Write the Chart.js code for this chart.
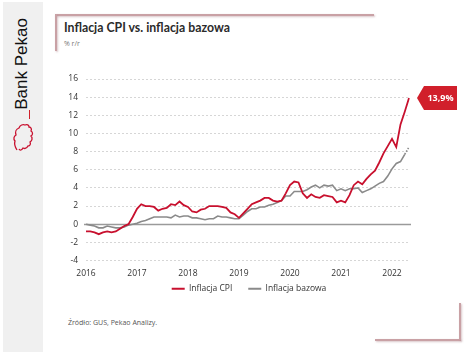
<!DOCTYPE html>
<html>
<head>
<meta charset="utf-8">
<script src="https://cdn.jsdelivr.net/npm/chart.js@4/dist/chart.umd.min.js"></script>
<style>
  html, body { margin:0; padding:0; background:#fff; }
  body { width:474px; height:355px; position:relative; overflow:hidden; font-family:"Open Sans","Noto Sans",sans-serif; }
  #strip { position:absolute; left:3px; top:2px; width:40px; height:350px; background:#f0f0f0; }
  #brand { position:absolute; left:22px; top:64px; transform:translate(-50%,-50%) rotate(-90deg); font-family:"Liberation Sans",Arial,sans-serif; font-size:17px; color:#111; white-space:nowrap; }
  #bar { position:absolute; left:29px; top:110px; width:1px; height:9px; background:#d0202a; }
  #logo { position:absolute; left:12px; top:122px; }
  .ln { position:absolute; background:#c9a1a5; box-shadow:1px 1px 2px rgba(180,140,145,0.5); }
  #title { position:absolute; left:64px; top:20px; font-family:Lato,"Open Sans",sans-serif; font-weight:700; font-size:12.3px; color:#2b2b2b; white-space:nowrap; }
  #sub { position:absolute; left:64px; top:39px; font-size:7px; color:#777; }
  #src { position:absolute; left:68px; top:318px; font-size:7px; color:#555; white-space:nowrap; }
  canvas { position:absolute; left:0; top:0; }
</style>
</head>
<body>
<div id="strip"></div>
<div id="brand">Bank Pekao</div>
<div id="bar"></div>
<svg id="logo" width="22" height="30" viewBox="0 0 22 30">
  <path d="M5 28 C3 25 2 22 3 19 C1 17 2 14 4 13 C3 10 4 7 7 6 C8 3 11 2 13 3 C15 2 17 3 17 5 C19 5 20 7 19 9 C21 10 21 13 19 14 C21 16 20 19 18 20 C19 22 18 24 16 24 C15 26 13 27 11 26 C10 28 8 29 7 27" fill="none" stroke="#c8102e" stroke-width="1.3"/>
</svg>
<div class="ln" style="left:55px; top:14px; width:319px; height:1.5px;"></div>
<div class="ln" style="left:55px; top:14px; width:1.5px; height:37px;"></div>
<div class="ln" style="left:375px; top:339px; width:86px; height:1.5px;"></div>
<div class="ln" style="left:459px; top:303px; width:1.5px; height:37px;"></div>
<div id="title">Inflacja CPI vs. inflacja bazowa</div>
<div id="sub">% r/r</div>
<div id="src">Źródło: GUS, Pekao Analizy.</div>
<canvas id="c" width="474" height="355"></canvas>
<script>
const months = [];
for (let y = 2016; y <= 2022; y++) {
  for (let m = 1; m <= 12; m++) {
    if (y === 2022 && m > 5) break;
    months.push(y + '-' + String(m).padStart(2, '0'));
  }
}
const cpiLabel = 'Inflacja CPI';
const coreLabel = 'Inflacja bazowa';
const cpi = [
  -0.8,-0.8,-0.9,-1.1,-0.9,-0.8,-0.9,-0.8,-0.5,-0.2,0.0,0.8,
  1.7,2.2,2.0,2.0,1.9,1.5,1.7,1.8,2.2,2.1,2.5,2.1,
  1.9,1.4,1.3,1.6,1.7,2.0,2.0,2.0,1.9,1.8,1.3,1.1,
  0.7,1.2,1.7,2.2,2.4,2.6,2.9,2.9,2.6,2.5,2.6,3.4,
  4.3,4.7,4.6,3.4,2.9,3.3,3.0,2.9,3.2,3.1,3.0,2.4,
  2.6,2.4,3.2,4.3,4.7,4.4,5.0,5.5,5.9,6.8,7.8,8.6,
  9.4,8.5,11.0,12.4,13.9
];
const core = [
  0.0,-0.1,-0.2,-0.4,-0.4,-0.2,-0.3,-0.4,-0.4,-0.3,-0.1,0.0,
  0.1,0.3,0.4,0.6,0.8,0.8,0.8,0.8,0.7,1.0,0.8,0.9,
  0.9,0.7,0.7,0.6,0.5,0.6,0.6,0.9,0.8,0.8,0.7,0.6,
  0.6,1.0,1.4,1.7,1.7,1.9,1.9,2.1,2.2,2.4,2.6,3.1,
  3.1,3.6,3.6,3.6,3.8,4.1,4.3,4.0,4.3,4.2,4.3,3.7,
  3.9,3.7,3.9,3.9,4.0,3.5,3.7,3.9,4.2,4.5,4.7,5.3,
  6.1,6.7,6.9,7.7,8.5
];
const yTicks = [-4,-2,0,2,4,6,8,10,12,14,16];

const RED = '#c8102e';
const GRAY = '#8a8a8a';

const zeroLine = {
  id: 'zeroLine',
  beforeDatasetsDraw(chart) {
    const {ctx, chartArea, scales} = chart;
    const y = Math.round(scales.y.getPixelForValue(0)) + 0.5;
    ctx.save();
    ctx.strokeStyle = '#9a9a9a';
    ctx.lineWidth = 1.5;
    ctx.beginPath();
    ctx.moveTo(chartArea.left - 2, y);
    ctx.lineTo(chartArea.right + 2, y);
    ctx.stroke();
    ctx.restore();
  }
};

const legendShift = {
  id: 'legendShift',
  afterLayout(chart) {
    const lg = chart.legend;
    if (!lg) return;
    lg.left += 24; lg.right += 24;
    lg.top -= 14; lg.bottom -= 14;
  }
};

const endLabel = {
  id: 'endLabel',
  afterDatasetsDraw(chart) {
    const {ctx, chartArea, scales} = chart;
    const v = cpi[cpi.length - 1];
    const y = scales.y.getPixelForValue(v);
    const tip = chartArea.right + 8;
    const bx = tip + 7, ex = tip + 40, h = 12;
    ctx.save();
    ctx.fillStyle = '#d11f2b';
    ctx.beginPath();
    ctx.moveTo(tip, y);
    ctx.lineTo(bx, y - h);
    ctx.lineTo(ex, y - h);
    ctx.lineTo(ex, y + h);
    ctx.lineTo(bx, y + h);
    ctx.closePath();
    ctx.fill();
    ctx.fillStyle = '#fff';
    ctx.font = 'bold 9px "Open Sans", sans-serif';
    ctx.textAlign = 'center';
    ctx.textBaseline = 'middle';
    ctx.fillText(v.toFixed(1).replace('.', ',') + '%', (bx + ex) / 2, y + 0.5);
    ctx.restore();
  }
};

const lastIdx = core.length - 1;
new Chart(document.getElementById('c'), {
  type: 'line',
  data: {
    labels: months,
    datasets: [
      { label: cpiLabel, data: cpi, borderColor: RED, backgroundColor: RED, borderWidth: 1.8, pointRadius: 0, tension: 0 },
      { label: coreLabel, data: core, borderColor: GRAY, backgroundColor: GRAY, borderWidth: 1.6, pointRadius: 0, tension: 0,
        segment: { borderDash: ctx => ctx.p1DataIndex === lastIdx ? [1.5, 1.5] : undefined } }
    ]
  },
  options: {
    responsive: false,
    animation: false,
    devicePixelRatio: 1,
    layout: { padding: { left: 41, right: 65, top: 79, bottom: 38 } },
    plugins: {
      tooltip: { enabled: false },
      legend: {
        position: 'bottom',
        labels: {
          boxWidth: 13, boxHeight: 2, padding: 16,
          color: '#333', font: { size: 8.5, family: '"Open Sans", sans-serif' },
          generateLabels(chart) {
            return chart.data.datasets.map((d, i) => ({
              text: d.label, fillStyle: d.borderColor, strokeStyle: d.borderColor,
              lineWidth: 0, hidden: false, datasetIndex: i, fontColor: '#333'
            }));
          }
        }
      }
    },
    scales: {
      x: {
        grid: { display: false, drawTicks: false },
        border: { display: false },
        ticks: {
          autoSkip: false, maxRotation: 0, padding: 8, color: '#333',
          font: { size: 8.5, family: '"Open Sans", sans-serif' },
          callback(val, i) { const l = months[i]; return l.endsWith('-01') ? l.slice(0, 4) : ''; }
        },
        afterFit(s) { s.height = 22; }
      },
      y: {
        min: -4, max: 16,
        afterBuildTicks(s) { s.ticks = yTicks.map(v => ({ value: v })); },
        grid: { color: '#d6d6d6', lineWidth: 1, drawTicks: false },
        border: { display: false, dash: [2, 2] },
        ticks: { padding: 8, color: '#333', font: { size: 8.5, family: '"Open Sans", sans-serif' } },
        afterFit(s) { s.width = 45; }
      }
    }
  },
  plugins: [zeroLine, endLabel, legendShift]
});
</script>
</body>
</html>
